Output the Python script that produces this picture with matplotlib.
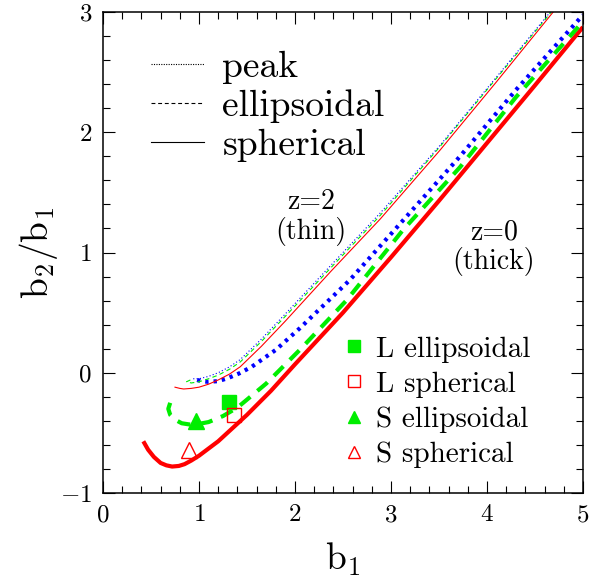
import numpy as np
import matplotlib
matplotlib.use('Agg')
import matplotlib.pyplot as plt
from matplotlib.lines import Line2D
from matplotlib.ticker import MultipleLocator

plt.rcParams['font.family'] = 'serif'
plt.rcParams['font.serif'] = ['cmr10']
plt.rcParams['mathtext.fontset'] = 'cm'
plt.rcParams['axes.formatter.use_mathtext'] = True

# z=0 (thick) curves: b1, b2/b1
b1_z0_sph = [0.42, 0.47, 0.53, 0.6, 0.66, 0.72, 0.79, 0.85, 0.92, 1.0, 1.1, 1.2, 1.35, 1.5, 1.75, 2.0, 2.5, 3.0, 3.5, 4.0, 4.5, 5.0]
r_z0_sph = [-0.57, -0.64, -0.70, -0.75, -0.77, -0.78, -0.775, -0.76, -0.73, -0.69, -0.63, -0.57, -0.46, -0.35, -0.15, 0.07, 0.50, 0.96, 1.43, 1.91, 2.39, 2.875]

b1_z0_ell = [0.70, 0.68, 0.70, 0.75, 0.82, 0.9, 1.0, 1.1, 1.25, 1.4, 1.7, 2.05, 2.54, 3.125, 3.72, 4.3, 5.0]
r_z0_ell = [-0.25, -0.30, -0.35, -0.39, -0.42, -0.43, -0.425, -0.41, -0.36, -0.29, -0.09, 0.19, 0.605, 1.187, 1.71, 2.29, 2.92]

b1_z0_pk = [0.98, 1.03, 1.09, 1.2, 1.3, 1.42, 1.55, 1.8, 2.05, 2.57, 3.04, 3.72, 4.3, 5.0]
r_z0_pk = [-0.06, -0.07, -0.075, -0.07, -0.045, -0.005, 0.05, 0.19, 0.37, 0.77, 1.19, 1.80, 2.35, 2.975]

# z=2 (thin) curves
b1_z2_sph = [0.75, 0.8, 0.84, 0.92, 1.0, 1.1, 1.2, 1.32, 1.43, 1.65, 1.9, 2.37, 2.89, 3.51, 4.1, 4.69]
r_z2_sph = [-0.12, -0.13, -0.135, -0.13, -0.12, -0.095, -0.06, -0.01, 0.05, 0.22, 0.43, 0.84, 1.28, 1.85, 2.42, 3.0]

b1_z2_ell = [0.91, 0.87, 0.92, 1.0, 1.1, 1.2, 1.32, 1.43, 1.65, 1.9, 2.37, 2.89, 3.51, 4.1, 4.67]
r_z2_ell = [-0.06, -0.075, -0.085, -0.075, -0.05, -0.02, 0.03, 0.09, 0.26, 0.47, 0.87, 1.31, 1.88, 2.45, 3.0]

b1_z2_pk = [0.94, 1.0, 1.1, 1.2, 1.32, 1.43, 1.65, 1.9, 2.37, 2.89, 3.51, 4.1, 4.66]
r_z2_pk = [-0.05, -0.05, -0.03, 0.0, 0.05, 0.11, 0.28, 0.49, 0.89, 1.33, 1.89, 2.46, 3.0]

# simulation points
L_ell = (1.31, -0.24)
L_sph = (1.36, -0.35)
S_ell = (0.97, -0.40)
S_sph = (0.90, -0.64)

red = '#ff0000'
green = '#00ee00'
blue = '#0000ff'

fig = plt.figure(figsize=(5.9, 5.86), dpi=100)
ax = fig.add_axes([0.1746, 0.1587, 0.8134, 0.8208])

ax.plot(b1_z0_sph, r_z0_sph, color=red, lw=3.0, solid_capstyle='butt')
ax.plot(b1_z0_ell, r_z0_ell, color=green, lw=3.0, dashes=(3.2, 2.2))
ax.plot(b1_z0_pk, r_z0_pk, color=blue, lw=3.0, dashes=(0.8, 1.2))

ax.plot(b1_z2_sph, r_z2_sph, color=red, lw=0.8)
ax.plot(b1_z2_ell, r_z2_ell, color=green, lw=0.8, dashes=(4, 3))
ax.plot(b1_z2_pk, r_z2_pk, color=blue, lw=0.8, dashes=(1, 2))

h1, = ax.plot(*L_ell, 's', color=green, ms=9.5, label='L ellipsoidal', linestyle='none')
h2, = ax.plot(*L_sph, 's', mfc='none', mec=red, ms=9.5, mew=1.0, label='L spherical', linestyle='none')
h3, = ax.plot(*S_ell, '^', color=green, ms=11, label='S ellipsoidal', linestyle='none')
h4, = ax.plot(*S_sph, '^', mfc='none', mec=red, ms=11, mew=1.0, label='S spherical', linestyle='none')

leg2 = ax.legend(handles=[h1, h2, h3, h4], loc='lower right', bbox_to_anchor=(0.945, -0.003),
                 frameon=False, fontsize=21, handlelength=0.6, handletextpad=0.45,
                 labelspacing=0.3, markerscale=0.85)
ax.add_artist(leg2)

styles = [Line2D([], [], color='k', lw=0.8, dashes=(1, 1.2)),
          Line2D([], [], color='k', lw=0.8, dashes=(3.5, 2.5)),
          Line2D([], [], color='k', lw=0.8)]
ax.legend(handles=styles, labels=['peak', 'ellipsoidal', 'spherical'], loc='upper left',
          bbox_to_anchor=(0.03, 0.99), frameon=False, fontsize=27, handlelength=1.4,
          handletextpad=0.5, labelspacing=0.15)

ax.text(2.17, 1.29, 'z=2\n(thin)', ha='center', va='center', fontsize=20, linespacing=1.1)
ax.text(4.07, 1.04, 'z=0\n(thick)', ha='center', va='center', fontsize=20, linespacing=1.1)

ax.set_xlim(0, 5)
ax.set_ylim(-1, 3)
ax.xaxis.set_major_locator(MultipleLocator(1))
ax.xaxis.set_minor_locator(MultipleLocator(0.2))
ax.yaxis.set_major_locator(MultipleLocator(1))
ax.yaxis.set_minor_locator(MultipleLocator(0.2))
ax.tick_params(which='both', direction='in', top=True, right=True, width=0.8, labelsize=18)
ax.tick_params(which='major', length=8.5, pad=8)
ax.tick_params(which='minor', length=5)
for s in ax.spines.values():
    s.set_linewidth(1.1)

ax.set_xlabel(r'$\mathrm{b_1}$', fontsize=27, labelpad=10)
ax.set_ylabel(r'$\mathrm{b_2/b_1}$', fontsize=27, labelpad=0)

fig.savefig('out.png', dpi=100)
